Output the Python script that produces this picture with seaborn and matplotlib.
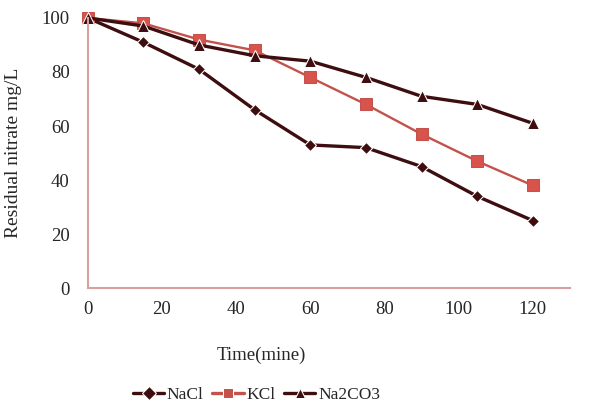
import matplotlib
matplotlib.use("Agg")
import matplotlib.pyplot as plt
import pandas as pd
import seaborn as sns

time_min = [0, 15, 30, 45, 60, 75, 90, 105, 120]
nacl = [100, 91, 81, 66, 53, 52, 45, 34, 25]
kcl = [100, 98, 92, 88, 78, 68, 57, 47, 38]
na2co3 = [100, 97, 90, 86, 84, 78, 71, 68, 61]
series_names = ["NaCl", "KCl", "Na2CO3"]

df = pd.concat([
    pd.DataFrame({"time": time_min, "value": vals, "salt": name})
    for name, vals in zip(series_names, [nacl, kcl, na2co3])
])

sns.set_style("white")
plt.rcParams["font.family"] = ["Liberation Serif", "DejaVu Serif"]

fig = plt.figure(figsize=(5.93, 4.17), dpi=100)
ax = fig.add_axes([0.148, 0.309, 0.813, 0.648])

palette = {"NaCl": "#3d0d0f", "KCl": "#c4524c", "Na2CO3": "#3d0d0f"}
markers = {"NaCl": "D", "KCl": "s", "Na2CO3": "^"}
sns.lineplot(
    data=df, x="time", y="value", hue="salt", style="salt",
    palette=palette, markers=markers, dashes=False,
    markersize=8.5, linewidth=2.4, ax=ax, legend=True,
)
for line in ax.lines:
    line.set_clip_on(False)
for line, name in zip(ax.lines, series_names):
    if name == "NaCl":
        line.set_markersize(6.5)
    if name == "KCl":
        line.set_linewidth(1.7)
        line.set_markerfacecolor("#d9534d")
        line.set_markeredgecolor("#c4524c")

ax.set_xlim(0, 130)
ax.set_ylim(0, 100)
ax.set_xticks(range(0, 121, 20))
ax.set_yticks(range(0, 101, 20))
ax.set_xlabel("Time(mine)", fontsize=13.5)
ax.xaxis.set_label_coords(0.36, -0.215)
ax.set_ylabel("Residual nitrate mg/L", fontsize=14, labelpad=14)
ax.tick_params(axis="both", labelsize=13.5, length=4, color="#d9a0a0")
ax.tick_params(axis="x", direction="in", pad=9)
ax.tick_params(axis="y", direction="out", pad=9)
for side in ["top", "right"]:
    ax.spines[side].set_visible(False)
for side in ["left", "bottom"]:
    ax.spines[side].set_color("#d9a0a0")
    ax.spines[side].set_linewidth(1.5)

handles, labels = ax.get_legend_handles_labels()
ax.legend(handles, labels, loc="center", bbox_to_anchor=(0.35, -0.395),
          ncol=3, frameon=False, fontsize=12.5, handlelength=1.8,
          handletextpad=0.15, columnspacing=0.5, markerscale=0.8)

fig.savefig("out.png", dpi=100, facecolor="white")
